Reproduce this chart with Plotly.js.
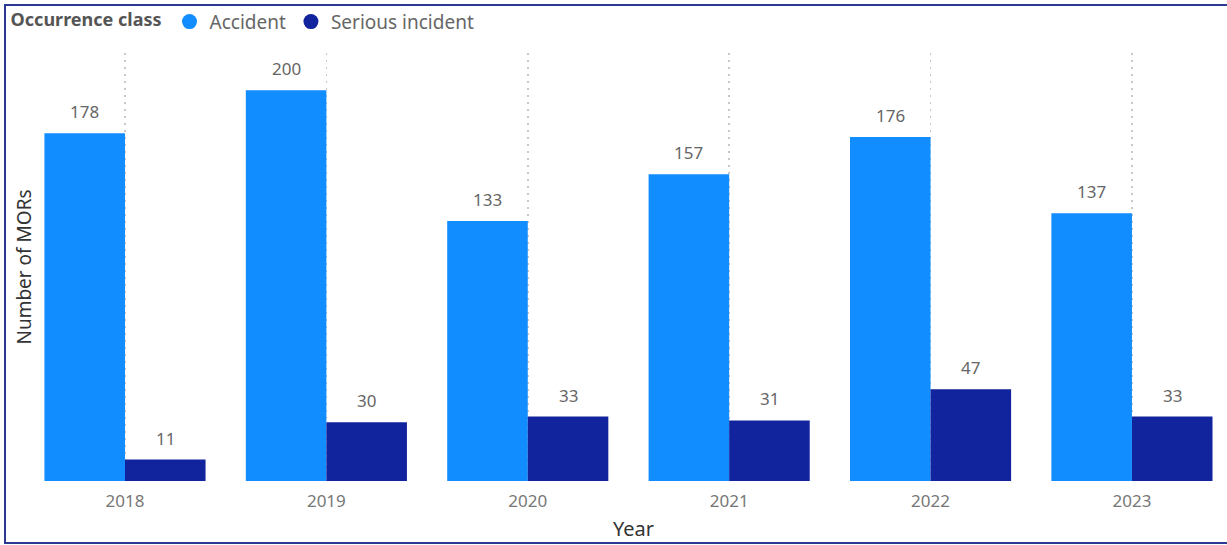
<!DOCTYPE html>
<html>
<head>
<meta charset="utf-8">
<script src="https://cdn.plot.ly/plotly-3.0.1.min.js"></script>
<style>
html,body{margin:0;padding:0;background:#fff;overflow:hidden;}
#chart{position:absolute;left:0;top:0;width:1227px;height:545px;}
#frame{position:absolute;left:4px;top:4px;width:1240px;height:536px;border:2px solid #2b3990;pointer-events:none;}
</style>
</head>
<body>
<div id="chart"></div>
<div id="frame"></div>
<script>
const years = ["2018","2019","2020","2021","2022","2023"];
const accident = [178,200,133,157,176,137];
const serious = [11,30,33,31,47,33];
const seriesNames = ["Accident","Serious incident"];
const seriesColors = ["#118DFF","#12239E"];

const FONT = "'Noto Sans', 'Open Sans', sans-serif";

const traces = [
  {type:'bar', name:seriesNames[0], x:years, y:accident, marker:{color:seriesColors[0]}, showlegend:false, hoverinfo:'x+y'},
  {type:'bar', name:seriesNames[1], x:years, y:serious, marker:{color:seriesColors[1]}, showlegend:false, hoverinfo:'x+y'},
  {type:'scatter', mode:'markers', name:seriesNames[0], x:[null], y:[null], marker:{color:seriesColors[0], size:15, symbol:'circle'}},
  {type:'scatter', mode:'markers', name:seriesNames[1], x:[null], y:[null], marker:{color:seriesColors[1], size:15, symbol:'circle'}}
];

const annotations = [];
[accident, serious].forEach((vals, s) => {
  vals.forEach((v, i) => {
    annotations.push({
      x: i + (s === 0 ? -0.2 : 0.2), y: v, xref:'x', yref:'y',
      text: String(v), showarrow:false, yanchor:'bottom', yshift:8,
      font:{family:FONT, size:17, color:'#666'}
    });
  });
});

const layout = {
  width:1227, height:545,
  margin:{l:40, r:0, t:53, b:64},
  paper_bgcolor:'rgba(0,0,0,0)', plot_bgcolor:'rgba(0,0,0,0)',
  barmode:'group', bargap:0.2, bargroupgap:0,
  font:{family:FONT, color:'#666'},
  xaxis:{
    type:'category', range:[-0.422, 5.472],
    showgrid:true, gridcolor:'#c8c8c8', griddash:'2px,5px', gridwidth:1.5,
    zeroline:false, showline:false,
    ticks:'', ticklabelstandoff:8, tickfont:{family:FONT, size:17, color:'#777'},
    title:{text:'Year', font:{family:FONT, size:20, color:'#333'}, standoff:10}
  },
  yaxis:{
    range:[0, 219], showgrid:false, zeroline:false, showticklabels:false, ticks:'',
    title:{text:'Number of MORs', font:{family:FONT, size:19, color:'#333'}, standoff:2}
  },
  legend:{
    orientation:'h', xref:'container', yref:'container', x:0.007, y:0.995, xanchor:'left', yanchor:'top',
    title:{text:'<b>Occurrence class</b>', side:'left', font:{family:FONT, size:18, color:'#555'}},
    font:{family:FONT, size:19, color:'#666'},
    itemwidth:30, tracegroupgap:0, bgcolor:'rgba(0,0,0,0)'
  },
  annotations: annotations
};

Plotly.newPlot('chart', traces, layout, {displayModeBar:false, staticPlot:true});
</script>
</body>
</html>
